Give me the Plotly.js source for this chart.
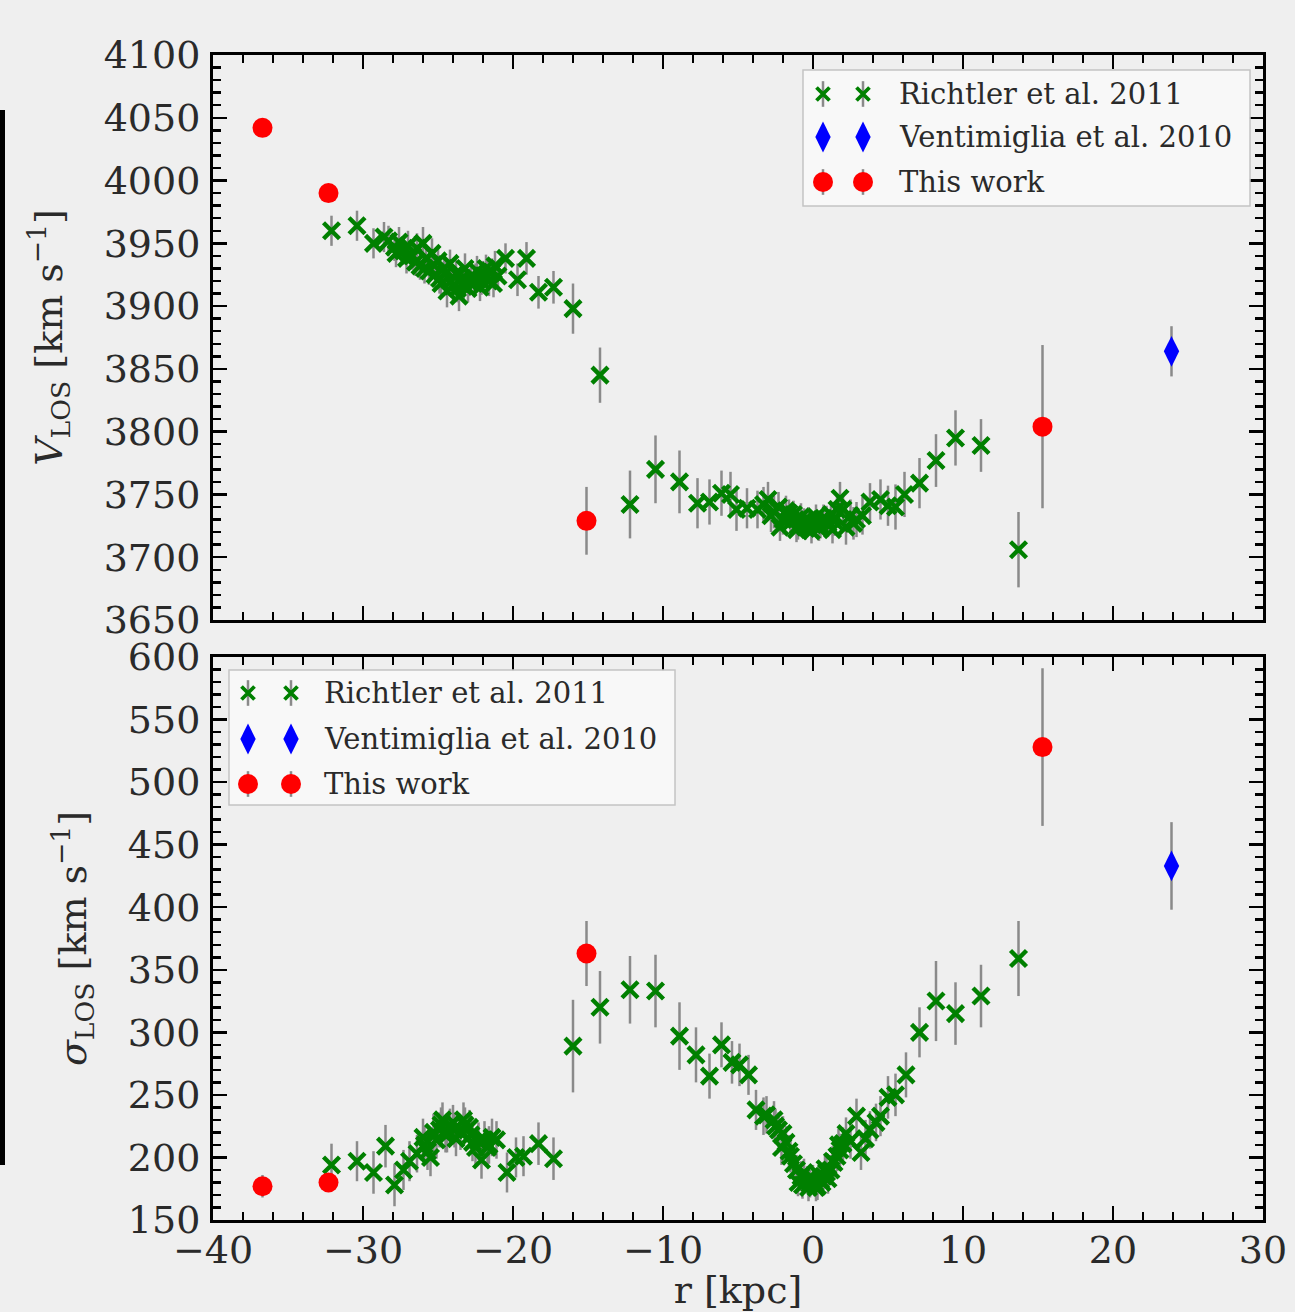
<!DOCTYPE html>
<html>
<head>
<meta charset="utf-8">
<script src="https://cdn.plot.ly/plotly-3.0.1.min.js"></script>
<style>
  html, body { margin: 0; padding: 0; background: #efefef; }
  #chart { width: 1295px; height: 1312px; }
</style>
</head>
<body>
<div id="chart"></div>
<script>
// ---------- DATA ----------
// Richtler et al. 2011 — line-of-sight velocity (top panel)
const richR_V = [-32.1,-30.4,-29.3,-28.6,
  -28.3,-27.9,-27.6,-27.3,-27.0,-26.7,-26.4,-26.2,-26.0,-25.8,-25.6,-25.4,-25.2,-25.0,-24.8,-24.6,-24.4,-24.2,-24.0,-23.8,-23.6,-23.4,-23.2,-23.0,-22.8,-22.6,-22.4,-22.2,-22.0,-21.8,-21.6,-21.4,-21.2,-21.0,
  -27.8,-27.1,-26.5,-25.9,-25.3,-24.9,-24.5,-24.1,-23.7,-23.3,-22.9,-22.5,-22.1,-21.7,-21.3,
  -20.5,-19.1,-19.7,-18.3,-17.3,-16.0,-14.2,
  -12.2,-10.5,-8.9,-7.7,-6.9,-6.1,-5.5,-5.1,-4.4,-3.7,-3.0,
  -2.6,-2.3,-2.0,-1.8,-1.5,-1.3,-1.0,-0.8,-0.5,-0.3,0.0,0.2,0.5,0.7,1.0,1.2,1.4,1.6,1.8,2.2,2.5,2.9,3.3,3.8,4.5,5.0,5.5,6.1,7.1,8.2,9.5,11.2,13.7,
  -2.2,-1.6,-1.1,-0.6,-0.1,0.4,0.9,1.3,2.0,2.7,-3.3,-2.8];
const richV = [3960,3964,3950,3955,
  3952,3947,3951,3944,3948,3940,3946,3932,3950,3938,3928,3942,3925,3936,3918,3930,3912,3934,3916,3926,3908,3922,3930,3914,3924,3918,3928,3915,3924,3930,3920,3927,3932,3924,
  3942,3938,3935,3930,3933,3922,3926,3920,3914,3916,3919,3922,3920,3924,3918,
  3938,3938,3921,3911,3915,3898,3845,
  3742,3770,3760,3743,3744,3751,3750,3738,3739,3738,3746,
  3736,3740,3730,3737,3728,3734,3725,3732,3724,3730,3726,3732,3725,3731,3727,3734,3729,3738,3747,3724,3733,3730,3733,3744,3746,3741,3740,3750,3759,3777,3795,3789,3706,
  3724,3735,3722,3729,3721,3723,3730,3722,3738,3727,3742,3733];
const richV_err = [12,12,12,12,
  12,11,12,11,12,11,12,11,13,11,11,12,11,12,11,12,13,11,12,11,12,11,12,11,12,11,12,11,12,11,12,11,12,11,
  11,12,11,12,11,12,11,12,11,12,11,12,11,12,11,
  12,13,13,13,13,20,22,
  27,27,25,20,18,18,18,17,16,15,14,
  13,12,12,12,11,11,11,11,10,10,10,10,10,11,11,11,12,12,13,14,13,14,15,15,16,16,18,18,20,21,22,21,30,
  11,11,10,10,10,10,11,11,12,13,14,13];

// Richtler et al. 2011 — velocity dispersion (bottom panel)
const richR_S = [-32.1,-30.4,-29.3,-28.5,-27.9,-27.3,-26.9,-26.4,-26.0,-25.7,-25.5,-25.1,-24.9,-24.7,-24.5,-24.2,-24.0,-23.8,-23.5,-23.2,-22.9,-22.7,-22.5,-22.1,-21.9,-21.7,-21.4,-21.1,-20.4,-19.8,-19.3,-18.3,-17.3,
  -25.9,-25.3,-24.8,-24.4,-23.9,-23.3,-22.8,-22.3,-21.6,
  -16.0,-14.2,-12.2,-10.5,-8.9,-7.8,-6.9,-6.1,-5.4,-4.9,-4.3,-3.8,-3.3,-3.1,-2.6,-2.5,-2.0,-2.1,-1.8,-1.5,-1.3,-1.1,-0.8,-0.6,-0.4,-0.2,
  0.1,0.3,0.5,0.7,0.9,1.2,1.4,1.6,1.8,2.0,2.2,2.5,2.9,3.2,3.5,3.8,4.2,4.5,5.0,5.5,6.2,7.1,8.2,9.5,11.2,13.7,
  -1.0,-0.7,-0.3,0.0,0.2,0.4,0.6,0.8,1.0,-2.3,-1.6,1.3,1.7];
const richS = [194,197,188,209,178,190,197,203,216,205,200,214,222,230,218,225,228,215,220,226,224,212,208,198,214,208,216,214,188,200,201,211,199,
  210,220,226,218,222,230,218,213,210,
  289,320,334,333,297,282,265,290,276,274,266,238,233,234,230,225,219,208,212,201,195,190,185,188,182,179,
  180,177,182,185,188,190,196,201,206,211,219,213,233,204,215,222,228,233,248,250,266,300,325,315,329,359,
  180,178,176,183,176,186,180,191,183,222,205,197,210];
const richS_err = [17,16,17,17,17,16,16,15,15,15,15,15,14,14,14,14,14,14,14,14,14,15,15,15,15,15,15,15,16,16,16,17,17,
  15,15,14,14,14,14,15,15,15,
  37,29,27,29,27,22,18,18,17,17,16,16,15,15,15,14,14,14,13,13,12,12,12,11,11,11,
  11,11,11,11,12,12,12,12,13,13,13,14,14,14,15,15,15,16,17,17,18,20,32,25,25,30,
  11,11,11,11,11,11,11,12,12,14,13,12,13];

// Ventimiglia et al. 2010
const ventR = [23.9];
const ventV = [3864];
const ventV_err = [20];
const ventS = [433];
const ventS_err = [35];

// This work
const workR = [-36.7,-32.3,-15.1,15.3];
const workV = [4042,3990,3729,3804];
const workV_err = [4,4,27,65];
const workS = [177,180,363,528];
const workS_err = [9,6,26,63];

// Legend labels
const legendLabels = ['Richtler et al. 2011','Ventimiglia et al. 2010','This work'];

// ---------- STYLES ----------
const GREEN = '#008000', BLUE = '#0000ff', RED = '#ff0000', EBAR = '#8a8a8a';
const serif = 'DejaVu Serif';
const mkGreen = {symbol:'x-thin', size:16, color:GREEN, line:{width:4.4, color:GREEN}};
const mkGreenLeg = {symbol:'x-thin', size:13, color:GREEN, line:{width:3.8, color:GREEN}};
const mkBlue = {symbol:'diamond-tall', size:22, color:BLUE, line:{width:0}};
const mkRed = {symbol:'circle', size:20, color:RED, line:{width:0}};
function eb(arr){ return {type:'data', array:arr, visible:true, color:EBAR, thickness:2.5, width:0}; }

const traces = [
  {x:richR_V, y:richV, error_y:eb(richV_err), mode:'markers', marker:mkGreen, xaxis:'x', yaxis:'y', showlegend:false},
  {x:ventR, y:ventV, error_y:eb(ventV_err), mode:'markers', marker:mkBlue, xaxis:'x', yaxis:'y', showlegend:false},
  {x:workR, y:workV, error_y:eb(workV_err), mode:'markers', marker:mkRed, xaxis:'x', yaxis:'y', showlegend:false},
  {x:richR_S, y:richS, error_y:eb(richS_err), mode:'markers', marker:mkGreen, xaxis:'x2', yaxis:'y2', showlegend:false},
  {x:ventR, y:ventS, error_y:eb(ventS_err), mode:'markers', marker:mkBlue, xaxis:'x2', yaxis:'y2', showlegend:false},
  {x:workR, y:workS, error_y:eb(workS_err), mode:'markers', marker:mkRed, xaxis:'x2', yaxis:'y2', showlegend:false}
];

// ---------- CUSTOM LEGENDS (overlay axes x3/y3) ----------
const PL = 213, PW = 1050, PB = 1220, PH = 1165;
const px = v => (v - PL) / PW;
const py = v => (PB - v) / PH;
const legends = [
  {mx:[823,863], ys:[94,137,182], tx:897, box:[803,70,1250,206]},
  {mx:[248,291], ys:[693,739,784], tx:322, box:[229,670,675,805]}
];
const mks = [mkGreenLeg, mkBlue, mkRed];
const shapes = [];
const annotations = [];
legends.forEach(L => {
  L.ys.forEach((yy, i) => {
    traces.push({
      x:[px(L.mx[0]), px(L.mx[1])], y:[py(yy), py(yy)],
      error_y:{type:'constant', value: i===1 ? 0 : 0.011, visible:true, color:EBAR, thickness:2.5, width:0},
      mode:'markers', marker:mks[i], xaxis:'x3', yaxis:'y3', showlegend:false, hoverinfo:'skip'
    });
    annotations.push({xref:'x3', yref:'y3', x:px(L.tx), y:py(yy), text:legendLabels[i], showarrow:false,
      xanchor:'left', yanchor:'middle', font:{family:serif, size:29, color:'#2a2a2a'}});
  });
  shapes.push({type:'rect', xref:'x3', yref:'y3', layer:'below',
    x0:px(L.box[0]), x1:px(L.box[2]), y0:py(L.box[3]), y1:py(L.box[1]),
    fillcolor:'rgba(248,248,248,0.9)', line:{color:'#c4c4c4', width:1.5}});
});
// dark vertical bar at the left page edge
shapes.push({type:'line', xref:'paper', yref:'paper', x0:px(2.5), x1:px(2.5), y0:py(1165), y1:py(110),
  line:{color:'#000', width:5}});

// ---------- AXES ----------
const tickFont = {family:serif, size:38, color:'#2a2a2a'};
function xa(extra){
  return Object.assign({
    range:[-40,30], dtick:10, tick0:0, ticks:'inside', ticklen:14, tickwidth:2.5, tickcolor:'#000',
    showline:true, linewidth:3, linecolor:'#000', mirror:'ticks', showgrid:false, zeroline:false,
    tickfont:tickFont, fixedrange:true,
    minor:{ticks:'inside', dtick:2, ticklen:8, tickwidth:2.5, tickcolor:'#000', showgrid:false}
  }, extra);
}
function ya(extra){
  return Object.assign({
    dtick:50, ticks:'inside', ticklen:14, tickwidth:2.5, tickcolor:'#000',
    showline:true, linewidth:3, linecolor:'#000', mirror:'ticks', showgrid:false, zeroline:false,
    tickfont:tickFont, ticklabelstandoff:2, fixedrange:true,
    minor:{ticks:'inside', dtick:10, ticklen:8, tickwidth:2.5, tickcolor:'#000', showgrid:false}
  }, extra);
}

const layout = {
  width:1295, height:1312,
  margin:{l:213, r:32, t:55, b:92},
  paper_bgcolor:'#efefef', plot_bgcolor:'rgba(0,0,0,0)',
  showlegend:false,
  xaxis: xa({anchor:'y', domain:[0,1], showticklabels:false}),
  yaxis: ya({anchor:'x', domain:[py(620),1], range:[3650,4100], tick0:3650,
    title:{text:'<i>V</i><sub>LOS</sub> [km s<sup>−1</sup>]', font:{family:serif, size:38, color:'#2a2a2a'}, standoff:30}}),
  xaxis2: xa({anchor:'y2', domain:[0,1], showticklabels:true, ticklabelstandoff:-6,
    title:{text:'r [kpc]', font:{family:serif, size:38, color:'#2a2a2a'}, standoff:29}}),
  yaxis2: ya({anchor:'x2', domain:[0,py(657)], range:[150,600], tick0:150,
    title:{text:'<i>σ</i><sub>LOS</sub> [km s<sup>−1</sup>]', font:{family:serif, size:38, color:'#2a2a2a'}, standoff:30}}),
  xaxis3: {domain:[0,1], range:[0,1], visible:false, anchor:'y3', fixedrange:true},
  yaxis3: {domain:[0,1], range:[0,1], visible:false, anchor:'x3', fixedrange:true},
  shapes: shapes,
  annotations: annotations
};

Plotly.newPlot('chart', traces, layout, {displayModeBar:false, staticPlot:true});
</script>
</body>
</html>
